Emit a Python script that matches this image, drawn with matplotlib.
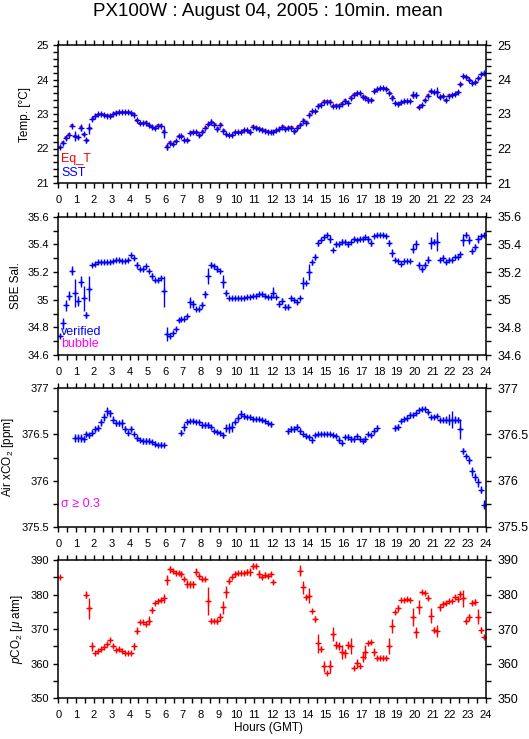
"""Four-panel 10-minute mean plot for PX100W, August 04, 2005."""

import matplotlib

matplotlib.use("Agg")
import matplotlib.pyplot as plt
import numpy as np
from matplotlib.ticker import FixedLocator, FormatStrFormatter, MultipleLocator

nan = np.nan

# 10-minute bins over the day (144 bins), one row per hour
sst = [
    22.03, 22.16, 22.31, 22.39, 22.66, 22.37, 22.32, 22.60, 22.41, 22.24, 22.58, 22.85,
    22.94, 23.00, 23.00, 22.98, 22.94, 22.94, 23.00, 23.03, 23.06, 23.06, 23.06, 23.05,
    23.03, 22.97, 22.82, 22.74, 22.74, 22.75, 22.67, 22.63, 22.60, 22.66, 22.66, 22.48,
    22.05, 22.17, 22.14, 22.21, 22.36, 22.36, 22.26, 22.24, 22.46, 22.48, 22.48, 22.39,
    22.48, 22.60, 22.70, 22.77, 22.69, 22.57, 22.68, 22.51, 22.41, 22.38, 22.40, 22.47,
    22.47, 22.47, 22.55, 22.55, 22.49, 22.63, 22.60, 22.57, 22.55, 22.52, 22.49, 22.49,
    22.48, 22.53, 22.57, 22.63, 22.57, 22.60, 22.59, 22.50, 22.60, 22.69, 22.80, 22.74,
    22.97, 23.08, 23.08, 23.24, 23.27, 23.35, 23.36, 23.35, 23.23, 23.23, 23.23, 23.29,
    23.38, 23.32, 23.46, 23.56, 23.61, 23.61, 23.50, 23.47, 23.41, 23.42, 23.66, 23.72,
    23.76, 23.75, 23.73, 23.62, 23.47, 23.33, 23.30, 23.34, 23.37, 23.38, 23.38, 23.56,
    23.55, 23.21, 23.27, 23.40, 23.53, 23.68, 23.63, 23.63, 23.50, 23.51, 23.40, 23.52,
    23.56, 23.59, 23.64, 23.86, 24.10, 24.08, 24.00, 23.89, 23.93, 24.05, 24.16, 24.18,
]
sst_sd = [
    0.02, 0.03, 0.06, 0.04, 0.02, 0.15, 0.05, 0.10, 0.05, 0.07, 0.15, 0.02,
    0.02, 0.02, 0.02, 0.02, 0.02, 0.03, 0.02, 0.02, 0.02, 0.02, 0.02, 0.02,
    0.02, 0.02, 0.03, 0.02, 0.02, 0.02, 0.02, 0.03, 0.02, 0.02, 0.02, 0.17,
    0.10, 0.06, 0.03, 0.03, 0.02, 0.02, 0.02, 0.04, 0.05, 0.02, 0.05, 0.05,
    0.02, 0.03, 0.03, 0.08, 0.02, 0.06, 0.02, 0.06, 0.04, 0.02, 0.02, 0.02,
    0.02, 0.02, 0.02, 0.02, 0.08, 0.02, 0.02, 0.02, 0.02, 0.02, 0.02, 0.05,
    0.02, 0.03, 0.03, 0.03, 0.05, 0.03, 0.02, 0.07, 0.07, 0.03, 0.08, 0.03,
    0.03, 0.02, 0.02, 0.06, 0.03, 0.02, 0.02, 0.03, 0.02, 0.02, 0.02, 0.05,
    0.05, 0.03, 0.04, 0.03, 0.03, 0.02, 0.02, 0.03, 0.08, 0.05, 0.05, 0.02,
    0.02, 0.02, 0.02, 0.04, 0.07, 0.02, 0.02, 0.02, 0.02, 0.02, 0.02, 0.10,
    0.10, 0.04, 0.02, 0.04, 0.03, 0.04, 0.05, 0.15, 0.07, 0.04, 0.03, 0.03,
    0.02, 0.02, 0.03, 0.05, 0.03, 0.02, 0.06, 0.03, 0.03, 0.03, 0.02, 0.02,
]
eq_t = [
    22.05, 22.18, 22.33, 22.41, 22.68, 22.37, 22.34, 22.62, 22.43, 22.24, 22.58, 22.87,
    22.96, 23.01, 23.01, 22.98, 22.96, 22.94, 23.02, 23.05, 23.07, 23.07, 23.07, 23.06,
    23.04, 22.99, 22.83, 22.75, 22.75, 22.77, 22.67, 22.65, 22.60, 22.67, 22.67, 22.50,
    22.07, 22.19, 22.14, 22.23, 22.37, 22.36, 22.26, 22.24, 22.48, 22.49, 22.48, 22.39,
    22.50, 22.62, 22.71, 22.77, 22.71, 22.59, 22.70, 22.53, 22.41, 22.39, 22.40, 22.47,
    22.48, 22.48, 22.55, 22.55, 22.49, 22.65, 22.62, 22.59, 22.57, 22.53, 22.51, 22.49,
    22.50, 22.54, 22.58, 22.65, 22.58, 22.62, 22.61, 22.50, 22.61, 22.71, 22.82, 22.76,
    22.99, 23.10, 23.10, 23.25, 23.29, 23.37, 23.38, 23.37, 23.24, 23.25, 23.25, 23.31,
    23.40, 23.34, 23.48, 23.58, 23.62, 23.62, 23.51, 23.48, 23.41, 23.42, 23.66, 23.72,
    23.76, 23.75, 23.73, 23.62, 23.49, 23.33, 23.30, 23.34, 23.39, 23.38, 23.38, 23.56,
    23.55, 23.21, 23.27, 23.42, 23.55, 23.68, 23.65, 23.63, 23.50, 23.52, 23.40, 23.54,
    23.56, 23.59, 23.64, 23.88, 24.10, 24.08, 24.00, 23.89, 23.93, 24.05, 24.16, 24.18,
]
sal = [
    34.74, 34.83, 34.96, 35.03, 35.21, 35.05, 34.99, 35.13, 35.01, 34.89, 35.08, 35.25,
    35.26, 35.27, 35.27, 35.27, 35.27, 35.27, 35.28, 35.29, 35.29, 35.28, 35.28, 35.29,
    35.32, 35.30, 35.25, 35.22, 35.22, 35.24, 35.21, 35.17, 35.14, 35.14, 35.16, 35.06,
    34.75, 34.74, 34.76, 34.79, 34.85, 34.86, 34.86, 34.88, 34.98, 34.97, 34.93, 34.93,
    34.96, 35.04, 35.17, 35.25, 35.24, 35.22, 35.21, 35.13, 35.05, 35.01, 35.01, 35.01,
    35.01, 35.01, 35.01, 35.02, 35.02, 35.03, 35.03, 35.04, 35.04, 35.03, 35.02, 35.02,
    35.05, 35.02, 34.97, 34.99, 34.95, 34.95, 35.01, 35.00, 34.98, 35.01, 35.12, 35.12,
    35.20, 35.27, 35.31, 35.41, 35.43, 35.45, 35.47, 35.44, 35.36, 35.40, 35.40, 35.42,
    35.42, 35.40, 35.42, 35.44, 35.43, 35.44, 35.44, 35.45, 35.44, 35.41, 35.46, 35.47,
    35.47, 35.47, 35.46, 35.41, 35.34, 35.29, 35.28, 35.26, 35.28, 35.28, 35.28, 35.37,
    35.40, 35.25, 35.22, 35.25, 35.29, 35.41, 35.42, 35.42, 35.29, 35.30, 35.27, 35.29,
    35.29, 35.31, 35.31, 35.33, 35.43, 35.47, 35.43, 35.35, 35.38, 35.44, 35.46, 35.47,
]
sal_sd = [
    0.01, 0.04, 0.04, 0.035, 0.03, 0.10, 0.035, 0.04, 0.09, 0.02, 0.09, 0.01,
    0.01, 0.01, 0.01, 0.01, 0.01, 0.01, 0.01, 0.01, 0.01, 0.01, 0.01, 0.01,
    0.01, 0.01, 0.02, 0.01, 0.01, 0.01, 0.01, 0.02, 0.01, 0.01, 0.01, 0.11,
    0.05, 0.02, 0.01, 0.01, 0.01, 0.01, 0.01, 0.01, 0.04, 0.03, 0.01, 0.01,
    0.02, 0.025, 0.06, 0.02, 0.015, 0.02, 0.01, 0.045, 0.02, 0.01, 0.01, 0.01,
    0.01, 0.01, 0.01, 0.01, 0.01, 0.01, 0.01, 0.01, 0.01, 0.01, 0.01, 0.01,
    0.04, 0.01, 0.02, 0.02, 0.02, 0.02, 0.02, 0.01, 0.01, 0.01, 0.045, 0.01,
    0.055, 0.02, 0.02, 0.025, 0.015, 0.01, 0.01, 0.03, 0.01, 0.02, 0.01, 0.02,
    0.01, 0.02, 0.01, 0.01, 0.01, 0.01, 0.01, 0.01, 0.02, 0.02, 0.01, 0.01,
    0.01, 0.01, 0.01, 0.02, 0.03, 0.01, 0.01, 0.01, 0.01, 0.01, 0.01, 0.035,
    0.03, 0.02, 0.02, 0.02, 0.025, 0.04, 0.02, 0.07, 0.01, 0.02, 0.01, 0.01,
    0.01, 0.01, 0.01, 0.01, 0.045, 0.02, 0.03, 0.02, 0.02, 0.03, 0.015, 0.01,
]
air_xco2 = [
    nan, nan, nan, nan, nan, 376.46, 376.46, 376.46, 376.45, 376.50, 376.49, 376.52,
    376.56, 376.57, 376.63, 376.69, 376.75, 376.73, 376.66, 376.62, 376.62, 376.62, 376.56, 376.52,
    376.56, 376.50, 376.46, 376.44, 376.43, 376.43, 376.43, 376.42, 376.40, 376.39, 376.39, 376.39,
    nan, nan, nan, nan, nan, 376.52, 376.58, 376.64, 376.65, 376.65, 376.64, 376.64,
    376.60, 376.60, 376.60, 376.58, 376.54, 376.53, 376.52, 376.49, 376.57, 376.57, 376.58, 376.64,
    376.68, 376.72, 376.70, 376.69, 376.69, 376.67, 376.67, 376.67, 376.66, 376.65, 376.62, 376.61,
    nan, nan, nan, nan, nan, 376.54, 376.56, 376.56, 376.58, 376.54, 376.50, 376.48,
    376.47, 376.44, 376.49, 376.50, 376.51, 376.51, 376.51, 376.51, 376.49, 376.48, 376.44, 376.41,
    376.47, 376.47, 376.45, 376.45, 376.48, 376.45, 376.43, 376.45, 376.50, 376.49, 376.54, 376.57,
    nan, nan, nan, nan, nan, 376.57, 376.58, 376.65, 376.67, 376.68, 376.71, 376.71,
    376.73, 376.77, 376.78, 376.78, 376.74, 376.69, 376.69, 376.70, 376.66, 376.66, 376.66, 376.66,
    376.66, 376.66, 376.66, 376.56, 376.32, 376.27, 376.22, 376.10, 376.04, 375.98, 375.90, 375.74,
]
air_sd = [
    0, 0, 0, 0, 0, 0.04, 0.04, 0.04, 0.03, 0.03, 0.03, 0.03,
    0.03, 0.03, 0.04, 0.04, 0.05, 0.04, 0.04, 0.03, 0.03, 0.05, 0.03, 0.03,
    0.03, 0.02, 0.03, 0.02, 0.03, 0.03, 0.03, 0.02, 0.03, 0.02, 0.03, 0.02,
    0, 0, 0, 0, 0, 0.03, 0.04, 0.03, 0.02, 0.02, 0.02, 0.02,
    0.03, 0.03, 0.03, 0.02, 0.02, 0.02, 0.02, 0.03, 0.04, 0.05, 0.05, 0.03,
    0.03, 0.04, 0.03, 0.02, 0.02, 0.02, 0.02, 0.02, 0.02, 0.02, 0.02, 0.03,
    0, 0, 0, 0, 0, 0.03, 0.03, 0.03, 0.03, 0.03, 0.02, 0.02,
    0.02, 0.03, 0.02, 0.02, 0.02, 0.02, 0.02, 0.02, 0.02, 0.02, 0.03, 0.02,
    0.02, 0.03, 0.03, 0.03, 0.03, 0.02, 0.02, 0.03, 0.02, 0.02, 0.03, 0.03,
    0, 0, 0, 0, 0, 0.03, 0.03, 0.02, 0.02, 0.03, 0.03, 0.02,
    0.02, 0.02, 0.02, 0.02, 0.02, 0.02, 0.02, 0.02, 0.02, 0.03, 0.04, 0.06,
    0.09, 0.04, 0.03, 0.11, 0.03, 0.02, 0.04, 0.05, 0.04, 0.05, 0.04, 0.05,
]
pco2 = [
    385.0, nan, nan, nan, nan, nan, nan, nan, nan, 379.9, 376.0, 365.0,
    363.0, 363.7, 364.3, 364.9, 365.7, 367.0, 365.2, 364.0, 364.3, 363.7, 363.2, 363.0,
    363.0, 365.1, 369.5, 372.0, 372.0, 371.4, 372.5, 375.5, 377.5, 378.0, 378.4, 378.9,
    384.2, 387.3, 386.8, 386.3, 386.3, 385.9, 384.5, 383.0, 383.0, 383.0, 386.6, 385.5,
    384.4, 384.4, 378.1, 372.5, 372.5, 372.4, 373.6, 376.3, 380.7, 383.9, 385.0, 385.9,
    386.1, 386.1, 386.1, 386.6, 386.6, 388.3, 388.3, 386.0, 385.1, 385.8, 385.3, 386.0,
    383.6, nan, nan, nan, nan, nan, nan, nan, nan, 386.9, 382.1, 379.2,
    379.7, 375.3, 372.9, 365.9, 364.2, 359.2, 357.4, 359.2, 368.5, 365.4, 365.2, 363.3,
    363.0, 365.4, 365.1, 358.9, 360.1, 359.3, 361.9, 363.3, 365.9, 366.2, 363.3, 361.6,
    361.8, 361.8, 361.6, 365.1, 370.9, 374.9, 376.1, 378.4, 378.4, 378.6, 378.4, 373.6,
    369.1, 376.5, 380.7, 380.4, 379.1, 373.9, 369.8, 369.5, 376.3, 377.3, 377.5, 378.0,
    378.2, 379.4, 378.7, 380.1, 378.9, 372.4, 373.4, 377.7, 377.9, 373.6, 369.8, 367.8,
]
pco2_sd = [
    0.3, 0, 0, 0, 0, 0, 0, 0, 0, 1.0, 3.0, 1.3,
    0.3, 0.3, 0.3, 0.3, 0.5, 0.3, 0.5, 0.3, 0.3, 0.3, 0.3, 0.3,
    0.3, 1.0, 1.0, 0.3, 0.3, 0.3, 1.2, 0.8, 0.3, 0.5, 0.5, 1.4,
    1.5, 1.0, 0.5, 0.5, 0.5, 0.8, 0.5, 1.2, 1.0, 1.0, 1.0, 0.8,
    0.5, 0.5, 4.0, 0.8, 0.5, 0.8, 1.2, 1.8, 1.8, 0.8, 0.4, 0.8,
    0.5, 0.5, 0.5, 0.8, 1.2, 0.8, 0.5, 1.2, 0.5, 0.8, 0.5, 0.5,
    0.6, 0, 0, 0, 0, 0, 0, 0, 0, 1.6, 1.8, 0.8,
    2.2, 0.3, 0.8, 2.8, 0.8, 1.5, 0.3, 2.0, 2.0, 1.2, 1.2, 2.0,
    1.2, 1.2, 2.4, 0.5, 1.2, 0.4, 1.5, 2.0, 0.5, 0.4, 1.2, 0.4,
    0.4, 0.4, 0.4, 2.2, 2.0, 0.4, 0.8, 0.4, 0.4, 0.4, 0.4, 2.6,
    1.6, 2.0, 0.4, 0.3, 0.8, 2.1, 0.8, 1.8, 1.0, 0.8, 0.5, 0.5,
    0.4, 0.5, 0.8, 0.8, 2.4, 0.8, 1.0, 0.8, 0.8, 2.1, 0.8, 0.6,
]
hour_ticks = list(range(25))

FONT = ["Liberation Sans", "DejaVu Sans"]
W, H = 529, 739
BLUE, RED, MAGENTA = "#0000ff", "#ff0000", "#ff00ff"


def _axes(fig, top_px, bot_px):
    left, right = 58.3, 485.7
    return fig.add_axes([left / W, 1 - bot_px / H, (right - left) / W, (bot_px - top_px) / H])


def _style(ax, ylim, major, minor, ylabel):
    ax.set_xlim(0, 24)
    ax.set_ylim(*ylim)
    ax.xaxis.set_major_locator(FixedLocator(hour_ticks))
    ax.xaxis.set_minor_locator(MultipleLocator(0.5))
    ax.yaxis.set_major_locator(MultipleLocator(major))
    ax.yaxis.set_minor_locator(MultipleLocator(minor))
    ax.yaxis.set_major_formatter(FormatStrFormatter("%g"))
    ax.tick_params(which="both", direction="out", length=3.5, width=1.0,
                   top=True, bottom=True, left=True, right=False,
                   labeltop=False, labelsize=8, pad=3)
    ax.tick_params(axis="x", pad=5)
    for s in ax.spines.values():
        s.set_linewidth(1.1)
    ax.set_ylabel(ylabel, fontsize=8.5, labelpad=4)

    # right-hand axis with its own (larger) labels
    rx = ax.twinx()
    rx.set_ylim(*ylim)
    rx.yaxis.set_major_locator(MultipleLocator(major))
    rx.yaxis.set_minor_locator(MultipleLocator(minor))
    rx.yaxis.set_major_formatter(FormatStrFormatter("%g"))
    rx.tick_params(which="both", direction="out", length=3.5, width=1.0, labelsize=9, pad=5)
    for s in rx.spines.values():
        s.set_visible(False)


def _bars(ax, hours, vals, sd, color):
    """10-min mean as a '+' symbol with its std error bar."""
    ax.errorbar(hours, vals, xerr=1 / 12, yerr=sd, fmt="+", color=color,
                ms=5, mew=1.0, ecolor=color, elinewidth=1.0, capsize=0)


def main():
    plt.rcParams["font.family"] = FONT
    plt.rcParams["mathtext.fontset"] = "custom"
    plt.rcParams["mathtext.rm"] = "Liberation Sans"
    plt.rcParams["mathtext.it"] = "Liberation Sans:italic"

    hours = (np.arange(len(sst)) + 0.5) / 6
    fig = plt.figure(figsize=(W / 100, H / 100), dpi=100)

    ax1 = _axes(fig, 45, 183)
    ax1.errorbar(hours, eq_t, xerr=1 / 12, fmt="none", ecolor=RED, elinewidth=2.0, capsize=0)
    _bars(ax1, hours, sst, sst_sd, BLUE)
    _style(ax1, (21, 25), 1, 0.2, "Temp. [°C]")
    ax1.text(0.007, 0.175, "Eq_T", color=RED, fontsize=9, transform=ax1.transAxes, va="center")
    ax1.text(0.007, 0.075, "SST", color=BLUE, fontsize=9, transform=ax1.transAxes, va="center")

    ax2 = _axes(fig, 216.7, 355)
    _bars(ax2, hours, sal, sal_sd, BLUE)
    _style(ax2, (34.6, 35.6), 0.2, 0.1, "SBE Sal.")
    ax2.text(0.007, 0.167, "verified", color=BLUE, fontsize=9, transform=ax2.transAxes, va="center")
    ax2.text(0.007, 0.076, "bubble", color=MAGENTA, fontsize=9, transform=ax2.transAxes, va="center")

    ax3 = _axes(fig, 388.3, 526.7)
    _bars(ax3, hours, air_xco2, air_sd, BLUE)
    _style(ax3, (375.5, 377), 0.5, 0.25, "Air xCO$_2$ [ppm]")
    ax3.text(0.007, 0.164, "σ ≥ 0.3", color=MAGENTA, fontsize=9, transform=ax3.transAxes, va="center")

    ax4 = _axes(fig, 560, 698.3)
    _bars(ax4, hours, pco2, pco2_sd, RED)
    _style(ax4, (350, 390), 10, 5, "$p$CO$_2$ [$\\mu$ atm]")

    fig.text(268 / W, 1 - 11 / H, "PX100W : August 04, 2005 : 10min. mean",
             ha="center", va="center", fontsize=13.5)
    fig.text(268 / W, 1 - 728 / H, "Hours (GMT)", ha="center", va="center", fontsize=8.5)

    fig.savefig("out.png", dpi=100)
    plt.close(fig)


if __name__ == "__main__":
    main()
